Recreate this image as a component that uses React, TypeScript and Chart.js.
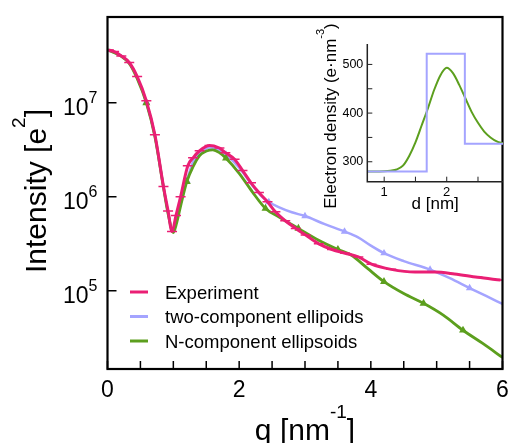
import React, { useEffect, useRef } from "react";
import { Chart, registerables } from "chart.js";

Chart.register(...registerables);

// ---------- main panel data ----------
const qExp = [0.02, 0.1, 0.21, 0.33, 0.45, 0.59, 0.72, 0.85, 0.92, 0.98, 1.04, 1.11, 1.22, 1.3, 1.4, 1.55, 1.7, 1.79, 1.93, 2.05, 2.18, 2.3, 2.43, 2.55, 2.7, 2.86, 3.01, 3.21, 3.41, 3.61, 3.81, 4.01, 4.31, 4.67, 4.97, 5.27, 5.62, 5.97];
const iExp = [3.65e7, 3.51e7, 3.16e7, 2.69e7, 1.91e7, 1.05e7, 4.57e6, 1.29e6, 7.08e5, 4.27e5, 6.31e5, 1.0e6, 2.14e6, 2.6e6, 3.09e6, 3.51e6, 3.31e6, 2.95e6, 2.51e6, 1.91e6, 1.41e6, 1.11e6, 8.85e5, 6.92e5, 5.56e5, 4.61e5, 3.92e5, 3.16e5, 2.75e5, 2.51e5, 2.29e5, 1.92e5, 1.69e5, 1.58e5, 1.58e5, 1.51e5, 1.39e5, 1.3e5];

const qTwo = [0, 0.2, 0.33, 0.45, 0.59, 0.72, 0.85, 0.92, 0.99, 1.05, 1.12, 1.205, 1.3, 1.4, 1.55, 1.7, 1.8, 2.0, 2.2, 2.35, 2.45, 2.6, 2.8, 3.0, 3.3, 3.6, 3.8, 4.0, 4.2, 4.5, 4.9, 5.2, 5.5, 5.75, 6.0];
const iTwo = [3.67e7, 3.2e7, 2.66e7, 1.86e7, 1.02e7, 4.47e6, 1.27e6, 6.76e5, 4.27e5, 5.75e5, 9.33e5, 1.48e6, 2.35e6, 2.88e6, 3.35e6, 3.16e6, 2.82e6, 2.04e6, 1.32e6, 1.0e6, 8.81e5, 7.76e5, 6.84e5, 6.24e5, 5.11e5, 4.27e5, 3.72e5, 3.02e5, 2.51e5, 2.07e5, 1.68e5, 1.36e5, 1.07e5, 8.81e4, 7.24e4];
const markTwo = [0.59, 1.205, 1.8, 2.45, 3.0, 3.6, 4.2, 4.9, 5.5];

const qN = [0, 0.2, 0.33, 0.45, 0.59, 0.72, 0.85, 0.92, 1.0, 1.05, 1.12, 1.205, 1.3, 1.4, 1.55, 1.6, 1.7, 1.8, 2.0, 2.2, 2.4, 2.6, 2.9, 3.2, 3.5, 3.7, 3.95, 4.2, 4.5, 4.8, 5.1, 5.4, 5.7, 6.0];
const iN = [3.67e7, 3.16e7, 2.63e7, 1.82e7, 1.0e7, 4.37e6, 1.26e6, 6.61e5, 4.17e5, 5.25e5, 8.51e5, 1.45e6, 2.09e6, 2.75e6, 3.14e6, 3.16e6, 2.95e6, 2.57e6, 1.78e6, 1.13e6, 7.52e5, 6.12e5, 4.61e5, 3.47e5, 2.75e5, 2.4e5, 1.73e5, 1.25e5, 9.33e4, 7.35e4, 5.5e4, 3.8e4, 2.75e4, 1.95e4];
const markN = [0.59, 1.205, 1.8, 2.4, 2.9, 3.5, 4.2, 4.8, 5.4];

const seriesLabels = ["Experiment", "two-component ellipoids", "N-component ellipsoids"];
const xTickValues = [0, 0.5, 1, 1.5, 2, 2.5, 3, 3.5, 4, 4.5, 5, 5.5, 6];
const xLabelValues = [0, 2, 4, 6];
const yTickValues = [1e5, 1e6, 1e7];

// ---------- inset data ----------
const stepD = [0.73, 1.68, 1.68, 2.29, 2.29, 2.9];
const stepRho = [280, 280, 522, 522, 337, 337];
const smoothD = [0.73, 1.0, 1.1, 1.2, 1.3, 1.4, 1.5, 1.6, 1.7, 1.8, 1.9, 2.0, 2.1, 2.2, 2.3, 2.4, 2.5, 2.6, 2.7, 2.8, 2.9];
const smoothRho = [280, 280.5, 281.5, 284, 292, 312, 340, 375, 410, 448, 478, 493, 482, 458, 430, 402, 380, 362, 350, 342, 338];
const insetYTicks = [300, 350, 400, 450, 500];
const insetYLabels = [300, 400, 500];
const insetXTicks = [1, 1.5, 2, 2.5];
const insetXLabels = [1, 2];

const PINK = "#ea1f74";
const BLUE = "#a4a4ff";
const GREEN = "#5c9f1e";
const FONT = "'Liberation Sans', Arial, Helvetica, sans-serif";

type Part = [string, boolean];

function drawRich(ctx: CanvasRenderingContext2D, parts: Part[], x: number, y: number, align: string, size: number, supSize: number, rise: number) {
  const font = `${size}px ${FONT}`;
  const supFont = `${supSize}px ${FONT}`;
  let total = 0;
  const widths = parts.map(([t, s]) => {
    ctx.font = s ? supFont : font;
    const w = ctx.measureText(t).width;
    total += w;
    return w;
  });
  let cx = align === "center" ? x - total / 2 : align === "right" ? x - total : x;
  ctx.textAlign = "left";
  ctx.textBaseline = "alphabetic";
  parts.forEach(([t, s], i) => {
    ctx.font = s ? supFont : font;
    ctx.fillText(t, cx, s ? y - rise : y);
    cx += widths[i];
  });
}

const mainDecor = {
  id: "mainDecor",
  afterDraw(chart: any) {
    const { ctx, chartArea: a, scales } = chart;
    const xs = scales.x;
    const ys = scales.y;
    ctx.save();
    ctx.strokeStyle = "#000";
    ctx.fillStyle = "#000";
    ctx.lineWidth = 1.5;
    ctx.beginPath();
    xTickValues.forEach((t) => {
      const px = xs.getPixelForValue(t);
      ctx.moveTo(px, a.bottom);
      ctx.lineTo(px, a.bottom - 8);
    });
    yTickValues.forEach((v) => {
      const py = ys.getPixelForValue(v);
      ctx.moveTo(a.left, py);
      ctx.lineTo(a.left + 9, py);
    });
    ctx.stroke();
    ctx.lineWidth = 2.2;
    ctx.strokeRect(a.left, a.top, a.right - a.left, a.bottom - a.top);

    // x tick labels
    ctx.font = `23px ${FONT}`;
    ctx.textAlign = "center";
    ctx.textBaseline = "alphabetic";
    xLabelValues.forEach((v) => {
      ctx.fillText(String(v), xs.getPixelForValue(v), 397);
    });
    // y tick labels
    yTickValues.forEach((v) => {
      const py = ys.getPixelForValue(v);
      drawRich(ctx, [["10", false], [String(Math.round(Math.log10(v))), true]], a.left - 10, py + 12.3, "right", 23, 16, 11.7);
    });
    // titles
    drawRich(ctx, [["q [nm", false], ["-1", true], ["]", false]], (a.left + a.right) / 2, 440, "center", 30, 19, 22);
    ctx.save();
    ctx.translate(46, (a.top + a.bottom) / 2 - 2);
    ctx.rotate(-Math.PI / 2);
    drawRich(ctx, [["Intensity [e", false], ["2", true], ["]", false]], 0, 0, "center", 30, 19, 21);
    ctx.restore();

    // legend
    const rows = [292, 316.5, 341];
    chart.data.datasets.forEach((ds: any, i: number) => {
      const yy = rows[i];
      ctx.strokeStyle = ds.borderColor;
      ctx.lineWidth = 3;
      ctx.beginPath();
      ctx.moveTo(130, yy);
      ctx.lineTo(148, yy);
      ctx.stroke();
      ctx.fillStyle = "#000";
      ctx.font = `18.5px ${FONT}`;
      ctx.textAlign = "left";
      ctx.fillText(ds.label, 165, yy + 6.5);
    });
    ctx.restore();
  },
};

const insetDecor = {
  id: "insetDecor",
  afterDraw(chart: any) {
    const { ctx, chartArea: a, scales } = chart;
    const xs = scales.x;
    const ys = scales.y;
    ctx.save();
    ctx.strokeStyle = "#222";
    ctx.fillStyle = "#000";
    ctx.lineWidth = 1.5;
    ctx.beginPath();
    ctx.moveTo(a.left, a.top);
    ctx.lineTo(a.left, a.bottom);
    ctx.lineTo(a.right, a.bottom);
    ctx.stroke();
    ctx.lineWidth = 1;
    ctx.beginPath();
    insetYTicks.forEach((v) => {
      const py = ys.getPixelForValue(v);
      ctx.moveTo(a.left, py);
      ctx.lineTo(a.left + 5, py);
    });
    insetXTicks.forEach((v) => {
      const px = xs.getPixelForValue(v);
      ctx.moveTo(px, a.bottom);
      ctx.lineTo(px, a.bottom - 5);
    });
    ctx.stroke();
    ctx.font = `12.5px ${FONT}`;
    ctx.textAlign = "right";
    ctx.textBaseline = "middle";
    insetYLabels.forEach((v) => {
      ctx.fillText(String(v), a.left - 4, ys.getPixelForValue(v));
    });
    ctx.font = `13px ${FONT}`;
    ctx.textAlign = "center";
    ctx.textBaseline = "alphabetic";
    insetXLabels.forEach((v) => {
      ctx.fillText(String(v), xs.getPixelForValue(v), 195.5);
    });
    ctx.font = `17px ${FONT}`;
    ctx.fillText("d [nm]", (a.left + a.right) / 2, 209);
    ctx.save();
    ctx.translate(36, 116);
    ctx.rotate(-Math.PI / 2);
    drawRich(ctx, [["Electron density (e·nm", false], ["-3", true], [")", false]], 0, 0, "center", 17, 11, 12);
    ctx.restore();
    ctx.restore();
  },
};

export default function App() {
  const mainRef = useRef<HTMLCanvasElement>(null);
  const insetRef = useRef<HTMLCanvasElement>(null);

  useEffect(() => {
    const mainChart = new Chart(mainRef.current as HTMLCanvasElement, {
      type: "line",
      data: {
        datasets: [
          {
            label: seriesLabels[0],
            data: qExp.map((q, i) => ({ x: q, y: iExp[i] })),
            borderColor: PINK,
            backgroundColor: PINK,
            borderWidth: 3,
            pointStyle: "line",
            pointRadius: 5,
            pointBorderWidth: 1.5,
            pointBorderColor: PINK,
            cubicInterpolationMode: "monotone",
            order: 0,
          },
          {
            label: seriesLabels[1],
            data: qTwo.map((q, i) => ({ x: q, y: iTwo[i] })),
            borderColor: BLUE,
            backgroundColor: BLUE,
            borderWidth: 2.5,
            pointStyle: "triangle",
            pointRadius: (c: any) => (markTwo.includes(qTwo[c.dataIndex]) ? 1.8 : 0),
            cubicInterpolationMode: "monotone",
            order: 2,
          },
          {
            label: seriesLabels[2],
            data: qN.map((q, i) => ({ x: q, y: iN[i] })),
            borderColor: GREEN,
            backgroundColor: GREEN,
            borderWidth: 2.8,
            pointStyle: "triangle",
            pointRadius: (c: any) => (markN.includes(qN[c.dataIndex]) ? 1.8 : 0),
            cubicInterpolationMode: "monotone",
            order: 1,
          },
        ],
      },
      options: {
        animation: false,
        responsive: false,
        devicePixelRatio: 1,
        layout: { padding: { left: 107.5, top: 17, right: 5, bottom: 74 } },
        plugins: { legend: { display: false }, tooltip: { enabled: false } },
        scales: {
          x: { type: "linear", min: 0, max: 6, display: false },
          y: { type: "logarithmic", min: 14700, max: 8.2e7, display: false },
        },
      },
      plugins: [mainDecor],
    } as any);

    const insetChart = new Chart(insetRef.current as HTMLCanvasElement, {
      type: "line",
      data: {
        datasets: [
          {
            label: "step",
            data: stepD.map((d, i) => ({ x: d, y: stepRho[i] })),
            borderColor: BLUE,
            borderWidth: 2,
            pointRadius: 0,
            tension: 0,
          },
          {
            label: "smooth",
            data: smoothD.map((d, i) => ({ x: d, y: smoothRho[i] })),
            borderColor: GREEN,
            borderWidth: 2,
            pointRadius: 0,
            cubicInterpolationMode: "monotone",
          },
        ],
      },
      options: {
        animation: false,
        responsive: false,
        devicePixelRatio: 1,
        layout: { padding: { left: 67.3, top: 44, right: 6, bottom: 48.3 } },
        plugins: { legend: { display: false }, tooltip: { enabled: false } },
        scales: {
          x: { type: "linear", min: 0.73, max: 2.9, display: false },
          y: { type: "linear", min: 259, max: 542, display: false },
        },
      },
      plugins: [insetDecor],
    } as any);

    return () => {
      mainChart.destroy();
      insetChart.destroy();
    };
  }, []);

  return (
    <div style={{ position: "absolute", left: 0, top: 0, width: 509, height: 443, overflow: "hidden", background: "#fff" }}>
      <canvas ref={mainRef} width={509} height={443} style={{ position: "absolute", left: 0, top: 0, display: "block" }} />
      <canvas ref={insetRef} width={209} height={230} style={{ position: "absolute", left: 300, top: 0, display: "block" }} />
    </div>
  );
}
